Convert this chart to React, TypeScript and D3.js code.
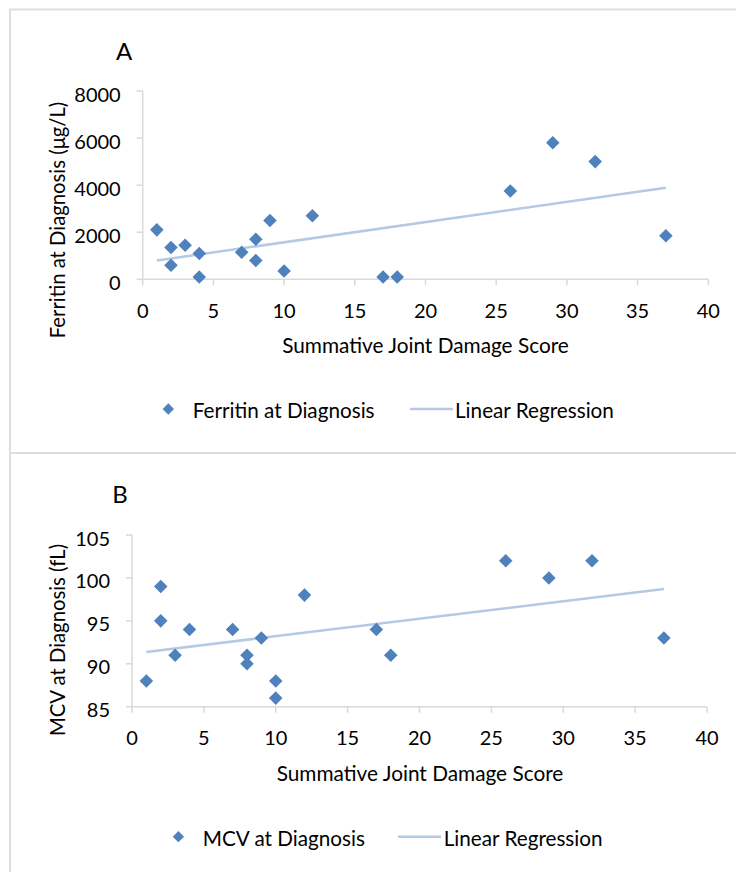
import React from "react";
import * as d3 from "d3";

// panel A: ferritin vs joint damage score
const ferritinScore = [1, 2, 2, 3, 4, 4, 7, 8, 8, 9, 10, 12, 17, 18, 26, 29, 32, 37];
const ferritinValue = [2100, 1350, 600, 1450, 1100, 100, 1150, 1700, 800, 2500, 350, 2700, 100, 100, 3750, 5800, 5000, 1850];
const ferritinTicks = [0, 2000, 4000, 6000, 8000];

// panel B: MCV vs joint damage score
const mcvScore = [1, 2, 2, 3, 4, 7, 8, 8, 9, 10, 10, 12, 17, 18, 26, 29, 32, 37];
const mcvValue = [88, 99, 95, 91, 94, 94, 91, 90, 93, 88, 86, 98, 94, 91, 102, 100, 102, 93];
const mcvTicks = [85, 90, 95, 100, 105];

const scoreTicks = [0, 5, 10, 15, 20, 25, 30, 35, 40];

const FONT = "Lato, 'Open Sans', sans-serif";
const BLUE = "#4f81bd";
const REG = "#b4c9e4";
const AXIS = "#d9d9d9";

const linReg = (xs: number[], ys: number[]) => {
  const mx = d3.mean(xs)!;
  const my = d3.mean(ys)!;
  let sxy = 0, sxx = 0;
  xs.forEach((x, i) => { sxy += (x - mx) * (ys[i] - my); sxx += (x - mx) * (x - mx); });
  const b = sxy / sxx;
  return (x: number) => my + b * (x - mx);
};

const diamond = d3.symbol().type(d3.symbolSquare);

const Panel = ({ top, letter, letterX, xs, ys, yTicks, xRange, yRange, yLabel, yLabelY, xLabelX, legendName, legend }) => {
  const x = d3.scaleLinear().domain([0, 40]).range(xRange);
  const y = d3.scaleLinear().domain([yTicks[0], yTicks[yTicks.length - 1]]).range(yRange);
  const reg = linReg(xs, ys);
  const [x0, x1] = d3.extent(xs);
  const y0 = y(yTicks[0]);
  const line = d3.line<number>().x(d => x(d)).y(d => y(reg(d)));
  return (
    <g>
      <rect x={10} y={top} width={740} height={500} fill="white" stroke="#dedede" strokeWidth={2} />
      <text x={letterX} y={top + 50} fontSize={24} textAnchor="middle">{letter}</text>
      {/* axes */}
      <line x1={x(0)} x2={x(40)} y1={y0} y2={y0} stroke={AXIS} strokeWidth={1.5} />
      <line x1={x(0)} x2={x(0)} y1={y0} y2={y(yTicks[yTicks.length - 1])} stroke={AXIS} strokeWidth={1.5} />
      {scoreTicks.map(t => (
        <g key={"x" + t}>
          <line x1={x(t)} x2={x(t)} y1={y0} y2={y0 + 6} stroke={AXIS} strokeWidth={1.5} />
          <text x={x(t)} y={y0 + 38.5} textAnchor="middle" fontSize={20}>{t}</text>
        </g>
      ))}
      {yTicks.map(t => (
        <g key={"y" + t}>
          <line x1={x(0) - 6} x2={x(0)} y1={y(t)} y2={y(t)} stroke={AXIS} strokeWidth={1.5} />
          <text x={x(0) - 22} y={y(t) + 10.5} textAnchor="end" fontSize={20}>{t}</text>
        </g>
      ))}
      <text transform={`translate(65, ${yLabelY}) rotate(-90)`} textAnchor="middle" fontSize={20.3}>{yLabel}</text>
      <text x={xLabelX} y={y0 + 74} textAnchor="middle" fontSize={20.8}>Summative Joint Damage Score</text>
      {/* data */}
      <path d={line([x0, x1])!} fill="none" stroke={REG} strokeWidth={2.5} />
      {xs.map((d, i) => (
        <path key={i} d={diamond.size(92)()!} transform={`translate(${x(d)}, ${y(ys[i])}) rotate(45)`} fill={BLUE} />
      ))}
      {/* legend */}
      <path d={diamond.size(64)()!} transform={`translate(${legend[0]}, ${legend[4]}) rotate(45)`} fill={BLUE} />
      <text x={legend[1]} y={legend[4] + 9} fontSize={20.7}>{legendName}</text>
      <line x1={legend[2]} x2={legend[2] + 43} y1={legend[4]} y2={legend[4]} stroke={REG} strokeWidth={2.5} />
      <text x={legend[3]} y={legend[4] + 9} fontSize={20.7}>Linear Regression</text>
    </g>
  );
};

const App = () => {
  return (
    <svg width={736} height={872} style={{ position: "absolute", left: 0, top: 0, fontFamily: FONT }}>
      <rect width={736} height={872} fill="white" />
      <Panel top={9.5} letter="A" letterX={124} xs={ferritinScore} ys={ferritinValue} yTicks={ferritinTicks}
        xRange={[142.7, 708.3]} yRange={[279.3, 91]} yLabel="Ferritin at Diagnosis (μg/L)" yLabelY={220}
        xLabelX={425.5} legendName="Ferritin at Diagnosis" legend={[168.3, 192.7, 410, 455, 409]} />
      <Panel top={453} letter="B" letterX={120} xs={mcvScore} ys={mcvValue} yTicks={mcvTicks}
        xRange={[132, 707]} yRange={[706.7, 535]} yLabel="MCV at Diagnosis (fL)" yLabelY={640}
        xLabelX={420} legendName="MCV at Diagnosis" legend={[178.4, 202.8, 398, 443.7, 836.7]} />
    </svg>
  );
};

export default App;
